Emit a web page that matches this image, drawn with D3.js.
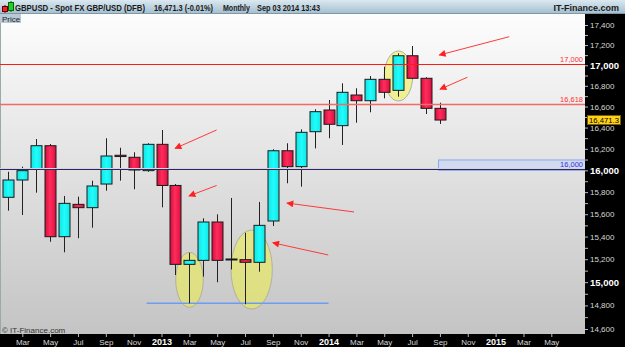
<!DOCTYPE html>
<html>
<head>
<meta charset="utf-8">
<script src="https://cdn.jsdelivr.net/npm/d3@7"></script>
<style>
  body { margin: 0; background: #000; overflow: hidden; }
  svg { display: block; font-family: "Liberation Sans", Arial, sans-serif; }
</style>
</head>
<body>
<svg id="chart" width="625" height="347"></svg>
<script>
// monthly candles Feb 2012 .. Sep 2014, month index 0 = Jan 2012
var monthIdx = d3.range(1, 33);
var open  = [15753,15911,16012,16229,15399,15689,15659,15874,16140,16121,15997,16242,15861,15155,15190,15530,15202,15196,15173,15539,16182,16034,16361,16567,16418,16711,16656,16863,16756,17094,16873,16583];
var high  = [15987,16034,16292,16245,15765,15759,15905,16299,16210,16168,16252,16377,15874,15257,15563,15599,15747,15434,15711,16196,16252,16383,16574,16663,16824,16776,16895,16986,17118,17190,16883,16637];
var low   = [15632,15593,15795,15354,15261,15385,15479,15813,15905,15826,15987,15662,15062,14818,15048,14999,15110,14810,15091,15494,15881,15850,16204,16299,16236,16446,16545,16679,16695,16865,16529,16434];
var close = [15911,15997,16229,15399,15698,15659,15856,16133,16128,16003,16242,15861,15155,15190,15530,15190,15197,15173,15500,16182,16034,16355,16551,16431,16737,16656,16863,16737,17094,16873,16583,16471.3];

// axis ticks
var priceMajor = d3.range(14600, 17401, 200);
var priceMinor = d3.range(14700, 17400, 200);
var monthTicks = d3.range(2, 41, 2);
var monthLabels = ["Mar","May","Jul","Sep","Nov","2013","Mar","May","Jul","Sep","Nov","2014","Mar","May","Jul","Sep","Nov","2015","Mar","May"];

// annotations (month index, price)
var levelValues = [17000, 16618, 16000];
var levelLabels = ["17,000", "16,618", "16,000"];
var zoneMonths = [31.9, 45];
var zoneValues = [16000, 16096];
var supportMonths = [10.93, 24];
var supportValue = 14818;
var ellipseMonths = [[13.02, 15.0], [16.99, 19.96], [28.0, 30.04]];
var ellipseValues = [[15260, 14784], [15458, 14769], [17141, 16653]];
var arrowFrom = [[15.96, 16377], [15.96, 15861], [25.83, 15620], [23.98, 15237], [36.98, 17283], [33.97, 16883]];
var arrowTo   = [[12.97, 16204], [13.97, 15765], [21.01, 15701], [19.99, 15345], [31.95, 17101], [32.0, 16766]];
var lastPrice = 16471.3;

var W = 625, H = 347;
var plotL = 0, plotR = 585, plotT = 14, plotB = 334;

var x = d3.scaleLinear().domain([2, 40]).range([22.3, 551.3]);
var y = d3.scaleLog().domain([14600, 17400]).range([329, 25]);

var svg = d3.select("#chart");
var defs = svg.append("defs");

function grad(id, x2, y2, stops) {
  var g = defs.append("linearGradient").attr("id", id)
    .attr("x1", 0).attr("y1", 0).attr("x2", x2).attr("y2", y2);
  stops.forEach(function(s) {
    g.append("stop").attr("offset", s[0]).attr("stop-color", s[1]);
  });
}
grad("bgGrad", 0, 1, [[0, "#fdfdfd"], [1, "#c4c4c4"]]);
grad("headGrad", 0, 1, [[0, "#dbe8f0"], [1, "#a2bdce"]]);
grad("redGrad", 1, 0, [[0, "#d40d3c"], [0.45, "#ff2d5c"], [1, "#dc0f40"]]);
grad("cyanGrad", 1, 0, [[0, "#10e6e6"], [0.5, "#22fbfb"], [1, "#10e6e6"]]);

defs.append("clipPath").attr("id", "plotClip")
  .append("rect").attr("x", plotL).attr("y", plotT)
  .attr("width", plotR - plotL).attr("height", plotB - plotT);

defs.append("marker").attr("id", "arrowHead")
  .attr("viewBox", "0 0 10 10").attr("refX", 9).attr("refY", 5)
  .attr("markerWidth", 8).attr("markerHeight", 7)
  .attr("markerUnits", "userSpaceOnUse").attr("orient", "auto")
  .append("path").attr("d", "M0,0L10,5L0,10z").attr("fill", "#ff2020");

// frame
svg.append("rect").attr("width", W).attr("height", H).attr("fill", "#000");

// header
svg.append("rect").attr("x", 0).attr("y", 0).attr("width", W).attr("height", plotT)
  .attr("fill", "url(#headGrad)");
svg.append("line").attr("x1", 0).attr("x2", W).attr("y1", plotT - 0.5).attr("y2", plotT - 0.5)
  .attr("stroke", "#7d98a8");
// little candle icon
svg.append("line").attr("x1", 5).attr("x2", 5).attr("y1", 5).attr("y2", 13).attr("stroke", "#600");
svg.append("rect").attr("x", 2.5).attr("y", 6.5).attr("width", 5).attr("height", 5).attr("fill", "#ee2233").attr("stroke", "#600");
svg.append("line").attr("x1", 11).attr("x2", 11).attr("y1", 1).attr("y2", 12).attr("stroke", "#060");
svg.append("rect").attr("x", 8.5).attr("y", 2.5).attr("width", 5).attr("height", 8).attr("fill", "#22cc33").attr("stroke", "#060");

var head = [
  ["GBPUSD - Spot FX GBP/USD (DFB)", 15, 130],
  ["16,471.3 (-0.01%)", 154, 59],
  ["Monthly", 223, 27],
  ["Sep 03 2014 13:43", 257, 63]
];
head.forEach(function(h) {
  svg.append("text").attr("x", h[1]).attr("y", 10.5).text(h[0])
    .attr("font-size", 8.2).attr("font-weight", "bold").attr("fill", "#1a1a1a")
    .attr("textLength", h[2]).attr("lengthAdjust", "spacingAndGlyphs");
});
svg.append("text").attr("x", 619).attr("y", 10.5).attr("text-anchor", "end")
  .text("IT-Finance.com").attr("font-size", 9).attr("font-weight", "bold").attr("fill", "#1a1a1a");

// plot background
svg.append("rect").attr("x", plotL).attr("y", plotT).attr("width", plotR - plotL)
  .attr("height", plotB - plotT).attr("fill", "url(#bgGrad)");
svg.append("line").attr("x1", 0.5).attr("x2", 0.5).attr("y1", plotT).attr("y2", plotB)
  .attr("stroke", "#9aa");

var plot = svg.append("g").attr("clip-path", "url(#plotClip)");

// zone box
plot.append("rect")
  .attr("x", x(zoneMonths[0])).attr("y", y(zoneValues[1]))
  .attr("width", x(zoneMonths[1]) - x(zoneMonths[0]))
  .attr("height", y(zoneValues[0]) - y(zoneValues[1]))
  .attr("fill", "#d2daf0").attr("stroke", "#86a8ee");

// ellipses (under the candles)
plot.selectAll("ellipse").data(ellipseMonths).join("ellipse")
  .attr("cx", function(d) { return (x(d[0]) + x(d[1])) / 2; })
  .attr("cy", function(d, i) { return (y(ellipseValues[i][0]) + y(ellipseValues[i][1])) / 2; })
  .attr("rx", function(d) { return (x(d[1]) - x(d[0])) / 2; })
  .attr("ry", function(d, i) { return (y(ellipseValues[i][1]) - y(ellipseValues[i][0])) / 2; })
  .attr("fill", "#eeee48").attr("fill-opacity", 0.55)
  .attr("stroke", "#b0b0a0").attr("stroke-width", 1);

// support line
plot.append("line")
  .attr("x1", x(supportMonths[0])).attr("x2", x(supportMonths[1]))
  .attr("y1", y(supportValue)).attr("y2", y(supportValue))
  .attr("stroke", "#6e9cf0").attr("stroke-width", 1.5);

// candles
var candles = monthIdx.map(function(m, i) {
  return { m: m, o: open[i], h: high[i], l: low[i], c: close[i] };
});
var bodyW = 11;
var cg = plot.append("g");
cg.selectAll("line.wick").data(candles).join("line").attr("class", "wick")
  .attr("x1", function(d) { return Math.round(x(d.m)) + 0.5; })
  .attr("x2", function(d) { return Math.round(x(d.m)) + 0.5; })
  .attr("y1", function(d) { return y(d.h); })
  .attr("y2", function(d) { return y(d.l); })
  .attr("stroke", "#222").attr("stroke-width", 1);
cg.selectAll("rect.body").data(candles).join("rect").attr("class", "body")
  .attr("x", function(d) { return Math.round(x(d.m)) + 0.5 - bodyW / 2; })
  .attr("y", function(d) { return y(Math.max(d.o, d.c)); })
  .attr("width", bodyW)
  .attr("height", function(d) { return Math.max(1, Math.abs(y(d.o) - y(d.c))); })
  .attr("fill", function(d) { return d.c >= d.o ? "url(#cyanGrad)" : "url(#redGrad)"; })
  .attr("stroke", "#1a1a1a").attr("stroke-width", 1);

// horizontal levels
var levelStroke = ["#ff1a1a", "#f26a6a", "#1a1acc"];
var levelWidth = [1, 1.5, 1];
levelValues.forEach(function(v, i) {
  if (i === 2) {
    plot.append("line").attr("x1", plotL).attr("x2", plotR)
      .attr("y1", Math.round(y(v)) - 1.5).attr("y2", Math.round(y(v)) - 1.5)
      .attr("stroke", "#e8e070");
  }
  plot.append("line").attr("x1", plotL).attr("x2", plotR)
    .attr("y1", Math.round(y(v)) - 0.5).attr("y2", Math.round(y(v)) - 0.5)
    .attr("stroke", levelStroke[i]).attr("stroke-width", levelWidth[i]);
  plot.append("text").attr("x", 583).attr("y", Math.round(y(v)) - 3)
    .attr("text-anchor", "end").attr("font-size", 7.5)
    .attr("fill", i === 2 ? "#3030e0" : "#ff3030").text(levelLabels[i]);
});

// arrows
plot.selectAll("line.arrow").data(arrowFrom).join("line").attr("class", "arrow")
  .attr("x1", function(d) { return x(d[0]); })
  .attr("y1", function(d) { return y(d[1]); })
  .attr("x2", function(d, i) { return x(arrowTo[i][0]); })
  .attr("y2", function(d, i) { return y(arrowTo[i][1]); })
  .attr("stroke", "#ff3a3a").attr("stroke-width", 1)
  .attr("marker-end", "url(#arrowHead)");

// Price tag and copyright
svg.append("rect").attr("x", 0).attr("y", plotT).attr("width", 21).attr("height", 9)
  .attr("fill", "#b8cad6");
svg.append("text").attr("x", 2).attr("y", plotT + 7.5).text("Price")
  .attr("font-size", 8).attr("fill", "#222");
svg.append("text").attr("x", 2).attr("y", plotB - 1.5).text("\u00a9 IT-Finance.com")
  .attr("font-size", 8).attr("fill", "#333");

// right axis
var ra = svg.append("g").attr("transform", "translate(" + plotR + ",0)");
ra.call(d3.axisRight(y).tickValues(priceMinor).tickSize(3).tickFormat(""))
  .call(function(g) { g.select(".domain").remove(); });
var rb = svg.append("g").attr("transform", "translate(" + plotR + ",0)");
rb.call(d3.axisRight(y).tickValues(priceMajor).tickSize(3).tickPadding(2).tickFormat(d3.format(",")))
  .call(function(g) { g.select(".domain").remove(); });
svg.selectAll(".tick line").attr("stroke", "#bbb");
rb.selectAll("text")
  .attr("font-family", "Liberation Sans, Arial, sans-serif")
  .attr("font-size", function(d) { return d % 1000 === 0 ? 9.5 : 8; })
  .attr("font-weight", function(d) { return d % 1000 === 0 ? "bold" : "normal"; })
  .attr("fill", function(d) { return d % 1000 === 0 ? "#fff" : "#d8d8d8"; });

// bottom axis
var ba = svg.append("g").attr("transform", "translate(0," + plotB + ")");
ba.call(d3.axisBottom(x).tickValues(monthTicks).tickSize(3).tickPadding(2)
    .tickFormat(function(d, i) { return monthLabels[i]; }))
  .call(function(g) { g.select(".domain").remove(); });
ba.selectAll(".tick line").attr("stroke", "#bbb");
ba.selectAll("text")
  .attr("font-family", "Liberation Sans, Arial, sans-serif")
  .attr("font-size", function(d, i) { return /^\d+$/.test(monthLabels[i]) ? 9 : 8; })
  .attr("font-weight", function(d, i) { return /^\d+$/.test(monthLabels[i]) ? "bold" : "normal"; })
  .attr("fill", function(d, i) { return /^\d+$/.test(monthLabels[i]) ? "#fff" : "#d8d8d8"; });

// last price tag
var ly = y(lastPrice);
svg.append("rect").attr("x", plotR + 2.5).attr("y", Math.round(ly) - 4.5)
  .attr("width", 33).attr("height", 9).attr("fill", "#ffd21a").attr("stroke", "#7a6000");
svg.append("text").attr("x", plotR + 4).attr("y", Math.round(ly) + 3)
  .attr("font-size", 7.5).attr("fill", "#000")
  .attr("textLength", 30).attr("lengthAdjust", "spacingAndGlyphs")
  .text(d3.format(",.1f")(lastPrice));
</script>
</body>
</html>
